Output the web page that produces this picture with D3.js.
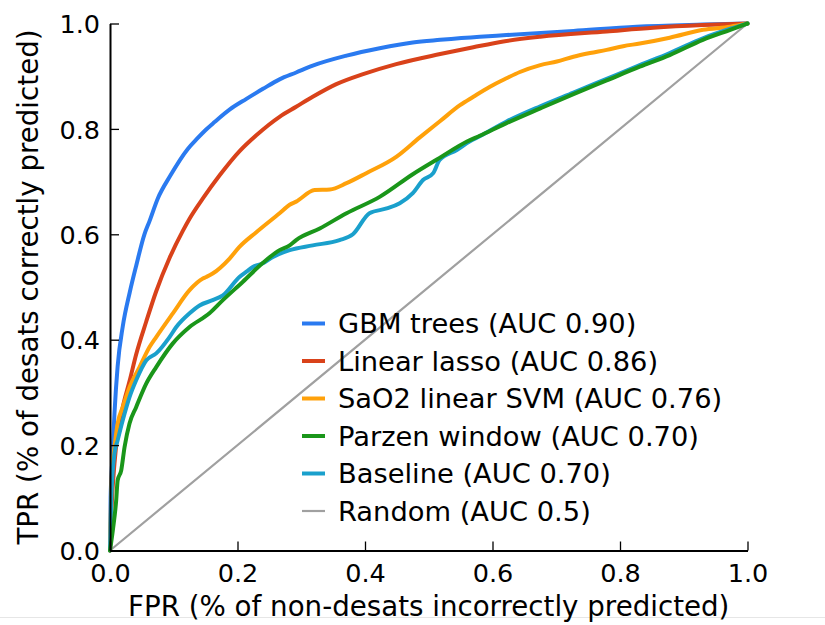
<!DOCTYPE html>
<html>
<head>
<meta charset="utf-8">
<script src="https://cdn.jsdelivr.net/npm/d3@7"></script>
<style>
  html, body { margin: 0; padding: 0; background: #fff; }
  svg { display: block; }
  text { font-family: "DejaVu Sans", sans-serif; fill: #000; }
</style>
</head>
<body>
<svg id="chart" width="825" height="625"></svg>
<script>
// ROC curves: [false positive rate, true positive rate]
const gbmTrees = [[0,0],[0.001,0.10],[0.0035,0.17],[0.007,0.26],[0.012,0.35],[0.02,0.425],[0.031,0.49],[0.041,0.54],[0.054,0.60],[0.062,0.625],[0.075,0.668],[0.094,0.71],[0.122,0.762],[0.137,0.782],[0.15,0.798],[0.164,0.813],[0.188,0.837],[0.214,0.857],[0.24,0.876],[0.266,0.894],[0.292,0.907],[0.318,0.92],[0.371,0.939],[0.423,0.953],[0.475,0.964],[0.518,0.969],[0.58,0.975],[0.622,0.978],[0.727,0.986],[0.826,0.994],[0.93,0.998],[1,1]];
const linearLasso = [[0,0],[0.002,0.07],[0.007,0.165],[0.012,0.222],[0.02,0.272],[0.031,0.323],[0.041,0.372],[0.057,0.435],[0.0725,0.492],[0.0934,0.555],[0.114,0.606],[0.125,0.63],[0.1457,0.668],[0.172,0.712],[0.2033,0.758],[0.2295,0.788],[0.266,0.823],[0.292,0.842],[0.318,0.861],[0.355,0.885],[0.397,0.904],[0.449,0.923],[0.518,0.942],[0.57,0.955],[0.617,0.966],[0.675,0.975],[0.779,0.985],[0.852,0.992],[0.93,0.997],[1,1]];
const sao2Svm = [[0,0],[0.003,0.15],[0.007,0.196],[0.012,0.241],[0.02,0.272],[0.0306,0.31],[0.0463,0.348],[0.062,0.386],[0.0725,0.405],[0.0986,0.45],[0.1248,0.494],[0.1457,0.516],[0.151,0.519],[0.161,0.5255],[0.1876,0.554],[0.203,0.576],[0.2295,0.604],[0.266,0.64],[0.2818,0.656],[0.292,0.662],[0.321,0.684],[0.345,0.685],[0.371,0.697],[0.402,0.716],[0.449,0.747],[0.486,0.784],[0.518,0.815],[0.549,0.845],[0.57,0.861],[0.596,0.88],[0.622,0.896],[0.643,0.908],[0.675,0.921],[0.701,0.928],[0.727,0.937],[0.753,0.944],[0.779,0.95],[0.805,0.957],[0.831,0.962],[0.878,0.973],[0.93,0.988],[0.973,0.994],[1,1]];
const parzenWindow = [[0,0],[0.0044,0.038],[0.0097,0.095],[0.012,0.133],[0.0176,0.152],[0.0228,0.196],[0.0306,0.241],[0.041,0.272],[0.057,0.317],[0.0725,0.348],[0.0986,0.393],[0.1248,0.424],[0.156,0.45],[0.177,0.475],[0.2085,0.51],[0.24,0.546],[0.266,0.57],[0.2818,0.579],[0.292,0.589],[0.329,0.611],[0.371,0.64],[0.423,0.671],[0.475,0.714],[0.517,0.745],[0.56,0.776],[0.58,0.787],[0.622,0.811],[0.675,0.839],[0.727,0.866],[0.779,0.892],[0.831,0.918],[0.878,0.94],[0.93,0.969],[0.973,0.988],[1,1]];
const baseline = [[0,0],[0.002,0.1],[0.007,0.184],[0.012,0.209],[0.02,0.247],[0.0306,0.291],[0.041,0.323],[0.057,0.361],[0.0725,0.374],[0.0934,0.405],[0.104,0.424],[0.1248,0.45],[0.1405,0.465],[0.161,0.475],[0.177,0.484],[0.203,0.519],[0.214,0.529],[0.224,0.538],[0.24,0.545],[0.2556,0.557],[0.2818,0.570],[0.318,0.579],[0.36,0.589],[0.381,0.60],[0.407,0.64],[0.434,0.649],[0.4545,0.659],[0.475,0.678],[0.491,0.703],[0.507,0.716],[0.517,0.741],[0.544,0.76],[0.564,0.776],[0.58,0.786],[0.622,0.814],[0.675,0.843],[0.727,0.869],[0.779,0.895],[0.831,0.921],[0.878,0.944],[0.93,0.972],[0.973,0.99],[1,1]];
const randomGuess = [[0,0],[1,1]];

const seriesNames = ["GBM trees (AUC 0.90)","Linear lasso (AUC 0.86)","SaO2 linear SVM (AUC 0.76)","Parzen window (AUC 0.70)","Baseline (AUC 0.70)","Random (AUC 0.5)"];
const seriesColors = ["#2a7af0","#d9421a","#ffa10a","#1a961a","#1aa0cc","#a0a0a0"];
const seriesData = [gbmTrees, linearLasso, sao2Svm, parzenWindow, baseline, randomGuess];
const seriesWidths = [4, 4, 4, 4, 4, 2.2];

const xTicks = [0, 0.2, 0.4, 0.6, 0.8, 1.0];
const yTicks = [0, 0.2, 0.4, 0.6, 0.8, 1.0];
const xLabel = "FPR (% of non-desats incorrectly predicted)";
const yLabel = "TPR (% of desats correctly predicted)";

const svg = d3.select("#chart");
const x = d3.scaleLinear().domain([0, 1]).range([110, 747.5]);
const y = d3.scaleLinear().domain([0, 1]).range([550.5, 23.5]);

// faint rule along the bottom edge
svg.append("line").attr("x1", 0).attr("x2", 825).attr("y1", 617.5).attr("y2", 617.5)
  .attr("stroke", "#e6e6e6").attr("stroke-width", 1);

const line = d3.line().x(d => x(d[0])).y(d => y(d[1])).curve(d3.curveMonotoneX);

// drawing order: random, then models (parzen over baseline)
const drawOrder = [5, 0, 1, 2, 4, 3];
svg.append("g").selectAll("path").data(drawOrder).join("path")
  .attr("d", i => line(seriesData[i]))
  .attr("fill", "none")
  .attr("stroke", i => seriesColors[i])
  .attr("stroke-width", i => seriesWidths[i])
  .attr("stroke-linejoin", "round")
  .attr("stroke-linecap", "round");

// axes with inward ticks
const fmt = d3.format(".1f");
const xAxis = svg.append("g").attr("transform", `translate(0,${y(0)})`)
  .call(d3.axisBottom(x).tickValues(xTicks).tickFormat(fmt).tickSize(-9).tickSizeOuter(0).tickPadding(13));
const yAxis = svg.append("g").attr("transform", `translate(${x(0)},0)`)
  .call(d3.axisLeft(y).tickValues(yTicks).tickFormat(fmt).tickSize(-9).tickSizeOuter(0).tickPadding(10));
[xAxis, yAxis].forEach(g => {
  g.select(".domain").attr("stroke", "#000").attr("stroke-width", 2);
  g.selectAll(".tick line").attr("stroke", "#000").attr("stroke-width", 1.3);
  g.selectAll(".tick text").attr("font-size", 25.5).attr("font-family", "DejaVu Sans").attr("fill", "#000");
});
yAxis.selectAll(".tick text").attr("dy", "0.36em");

// axis titles
svg.append("text").attr("x", (x(0) + x(1)) / 2).attr("y", 616)
  .attr("text-anchor", "middle").attr("font-size", 27.7).text(xLabel);
svg.append("text").attr("transform", `translate(38,${(y(0) + y(1)) / 2}) rotate(-90)`)
  .attr("text-anchor", "middle").attr("font-size", 27.7).text(yLabel);

// legend
const legend = svg.append("g").attr("transform", "translate(302,323.5)");
const rows = legend.selectAll("g").data(seriesNames).join("g")
  .attr("transform", (d, i) => `translate(0,${i * 37.5})`);
rows.append("line").attr("x1", 0).attr("x2", 23).attr("y1", 0).attr("y2", 0)
  .attr("stroke", (d, i) => seriesColors[i]).attr("stroke-width", (d, i) => seriesWidths[i]);
rows.append("text").attr("x", 36).attr("y", 0).attr("dy", "0.36em")
  .attr("font-size", 27.3).text(d => d);
</script>
</body>
</html>
